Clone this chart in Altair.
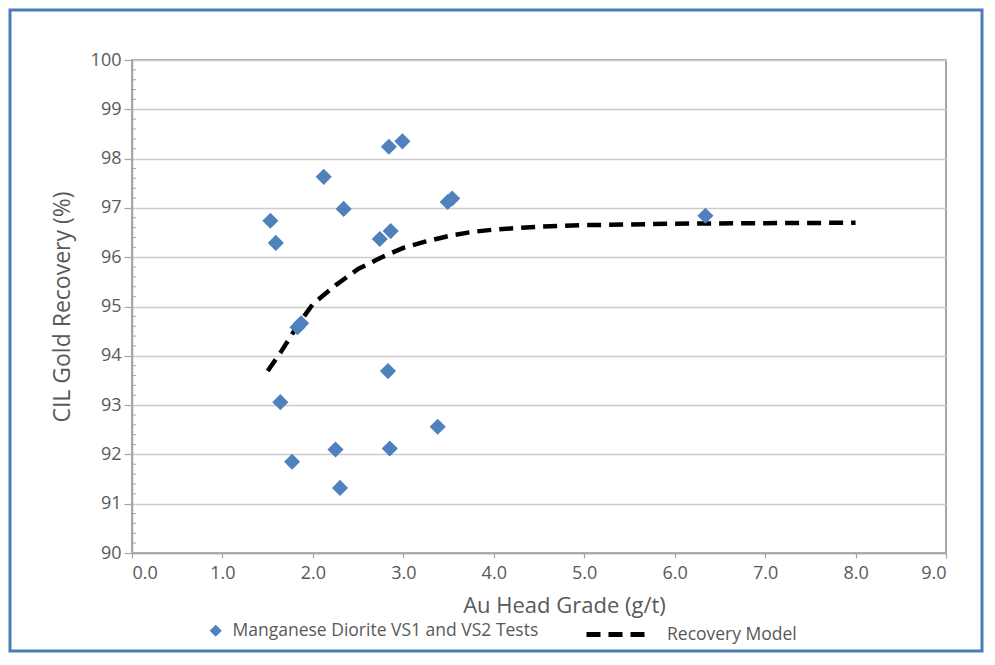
import altair as alt
import pandas as pd

# Manganese Diorite VS1 and VS2 tests
test_x = [1.53, 1.59, 2.12, 2.34, 2.84, 2.99, 2.74, 2.86, 3.49, 3.54, 6.34,
          1.83, 1.87, 2.83, 1.64, 3.38, 2.25, 2.85, 1.77, 2.30]
test_y = [96.74, 96.29, 97.63, 96.98, 98.24, 98.35, 96.37, 96.53, 97.12, 97.19, 96.84,
          94.58, 94.66, 93.69, 93.06, 92.56, 92.10, 92.12, 91.85, 91.32]

# Recovery model curve
model_x = [1.50, 1.64, 1.85, 2.00, 2.25, 2.50, 2.75, 3.00, 3.25, 3.50, 3.75, 4.00,
           4.50, 5.00, 6.00, 7.00, 8.00]
model_y = [93.69, 94.06, 94.67, 95.05, 95.43, 95.76, 95.99, 96.19, 96.32, 96.43, 96.51, 96.56,
           96.62, 96.65, 96.68, 96.69, 96.70]

series_names = ["Manganese Diorite VS1 and VS2 Tests", "Recovery Model"]
x_ticks = [0, 1, 2, 3, 4, 5, 6, 7, 8, 9]
y_ticks = [90, 91, 92, 93, 94, 95, 96, 97, 98, 99, 100]
minor_ticks = [round(90 + i * 0.2, 1) for i in range(51) if i % 5 != 0]

pts = pd.DataFrame({"x": test_x, "y": test_y, "series": series_names[0]})
mdl = pd.DataFrame({"x": model_x, "y": model_y, "series": series_names[1]})
minor = pd.DataFrame({"v": minor_ticks})

FONT = "Open Sans"
GREY = "#595959"
W, H = 814, 493
PAD = {"left": 124, "top": 52, "right": 38, "bottom": 100}

xscale = alt.Scale(domain=[0, 9], nice=False, zero=False)
yscale = alt.Scale(domain=[90, 100], nice=False, zero=False)

xaxis = alt.Axis(values=x_ticks, format=".1f", title="Au Head Grade (g/t)", grid=False,
                 tickSize=5, labelPadding=6, titleFontSize=22,
                 titleX=432, titleY=59, titleBaseline="alphabetic", titleAlign="center")
yaxis = alt.Axis(values=y_ticks, format="d", title="CIL Gold Recovery (%)", grid=True,
                 tickSize=8, labelPadding=3, titlePadding=16, titleFontSize=23)

points = alt.Chart(pts).mark_point(filled=True, color="#4f81bd", opacity=1, size=260).encode(
    x=alt.X("x:Q", scale=xscale, axis=xaxis),
    y=alt.Y("y:Q", scale=yscale, axis=yaxis),
    shape=alt.Shape("series:N", scale=alt.Scale(range=["diamond"]),
                    legend=alt.Legend(orient="none", legendX=75, legendY=562, title=None,
                                      symbolSize=150, symbolFillColor="#4f81bd",
                                      symbolStrokeWidth=0, labelOffset=8, padding=0,
                                      labelLimit=0)),
)

line = alt.Chart(mdl).mark_line(color="black", strokeWidth=4.5).encode(
    x=alt.X("x:Q", scale=xscale),
    y=alt.Y("y:Q", scale=yscale),
    strokeDash=alt.StrokeDash("series:N", scale=alt.Scale(range=[[14, 8]]),
                              legend=alt.Legend(orient="none", legendX=452, legendY=543,
                                                title=None, symbolType="stroke",
                                                symbolSize=3364, symbolStrokeColor="black",
                                                symbolStrokeWidth=5,
                                                labelOffset=20, padding=0, labelLimit=0)),
)

minor_rules = alt.Chart(minor).mark_rule(color="#a6a6a6", strokeWidth=1).encode(
    y=alt.Y("v:Q", scale=yscale),
    x=alt.value(0),
    x2=alt.value(4),
)

border = alt.Chart(alt.Data(values=[{}])).mark_rect(
    fillOpacity=0, stroke="#4a7ebb", strokeWidth=3, clip=False
).encode(
    x=alt.value(-PAD["left"] + 2),
    x2=alt.value(W + PAD["right"] - 2),
    y=alt.value(-PAD["top"] + 2),
    y2=alt.value(H + PAD["bottom"] - 2),
)

chart = alt.layer(border, minor_rules, line, points).properties(
    width=W, height=H,
    autosize=alt.AutoSizeParams(type="none"),
    padding=PAD,
    background="white",
).configure_view(
    stroke="#8a8a8a", strokeWidth=1.5
).configure_axis(
    labelFont=FONT, titleFont=FONT, labelFontSize=18,
    labelColor=GREY, titleColor=GREY, titleFontWeight="normal",
    domainColor="#a6a6a6", domainWidth=1.5, tickColor="#a6a6a6", tickWidth=1.2,
    gridColor="#cccccc", gridWidth=1.5,
).configure_legend(
    labelFont=FONT, labelFontSize=17.5, labelColor=GREY, direction="horizontal",
)

chart.save("out.html", embed_options={"renderer": "svg", "actions": False})
